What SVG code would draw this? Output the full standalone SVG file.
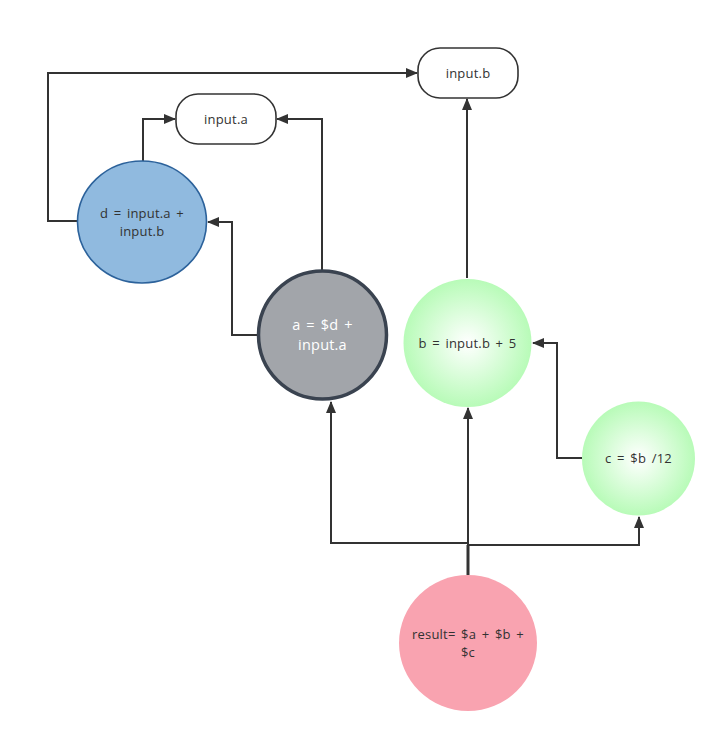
<svg xmlns="http://www.w3.org/2000/svg" width="727" height="743" viewBox="0 0 727 743">
<style>
.lbl{font-family:"Open Sans","Noto Sans","Liberation Sans",sans-serif;font-size:13px;fill:#323232;text-anchor:middle;word-spacing:2px;letter-spacing:0.2px}
.edge{fill:none;stroke:#333;stroke-width:2}
.term{fill:#fff;stroke:#333;stroke-width:1.6}
</style>
<defs>
<marker id="arr" viewBox="0 0 12 10" refX="11" refY="5" markerWidth="12" markerHeight="10" markerUnits="userSpaceOnUse" orient="auto">
<path d="M0,0 L12,5 L0,10 Z" fill="#333"/>
</marker>
<radialGradient id="green" cx="50%" cy="50%" r="50%">
<stop offset="0" stop-color="#ffffff"/>
<stop offset="1" stop-color="#b8fbb8"/>
</radialGradient>
</defs>
<rect width="727" height="743" fill="#fff"/>
<g id="connectors">
<path class="edge" d="M78,221 H48 V73 H417" marker-end="url(#arr)"/>
<path class="edge" d="M143,161 V119 H175" marker-end="url(#arr)"/>
<path class="edge" d="M322,270 V119 H277" marker-end="url(#arr)"/>
<path class="edge" d="M257,335 H232 V222 H208" marker-end="url(#arr)"/>
<path class="edge" d="M467,278 V99" marker-end="url(#arr)"/>
<path class="edge" d="M582,458 H557 V343 H533" marker-end="url(#arr)"/>
<path class="edge" d="M468,575 V543 H331 V402" marker-end="url(#arr)"/>
<path class="edge" d="M468,575 V408" marker-end="url(#arr)"/>
<path class="edge" d="M468,575 V545 H639 V517" marker-end="url(#arr)"/>
<path class="edge" d="M468,575 V545" style="stroke-width:3"/>
</g>
<g id="input_b">
<rect class="term" x="418" y="48" width="100" height="50" rx="22" ry="22"/>
<text class="lbl" x="468" y="77.5">input.b</text>
</g>
<g id="input_a">
<rect class="term" x="176" y="94" width="100" height="50" rx="22" ry="22"/>
<text class="lbl" x="226" y="123.5">input.a</text>
</g>
<g id="node_d">
<ellipse cx="142" cy="222" rx="64.5" ry="61" fill="#90badf" stroke="#2c629b" stroke-width="1.6"/>
<text class="lbl" x="142" y="218">d = input.a +</text>
<text class="lbl" x="142" y="236">input.b</text>
</g>
<g id="node_a">
<circle cx="322.5" cy="335" r="64" fill="#a2a5aa" stroke="#3a4350" stroke-width="3.5"/>
<text class="lbl" x="322.5" y="330" style="fill:#fff;font-size:14.5px">a = $d +</text>
<text class="lbl" x="322.5" y="350" style="fill:#fff;font-size:14.5px">input.a</text>
</g>
<g id="node_b">
<circle cx="467.5" cy="343" r="64" fill="url(#green)"/>
<text class="lbl" x="467.5" y="347.5">b = input.b + 5</text>
</g>
<g id="node_c">
<ellipse cx="638.5" cy="458.5" rx="56.5" ry="57" fill="url(#green)"/>
<text class="lbl" x="638.5" y="463">c = $b /12</text>
</g>
<g id="node_result">
<ellipse cx="468" cy="643" rx="69" ry="68" fill="#f9a3b0"/>
<text class="lbl" x="468" y="639">result= $a + $b +</text>
<text class="lbl" x="468" y="657">$c</text>
</g>
</svg>
